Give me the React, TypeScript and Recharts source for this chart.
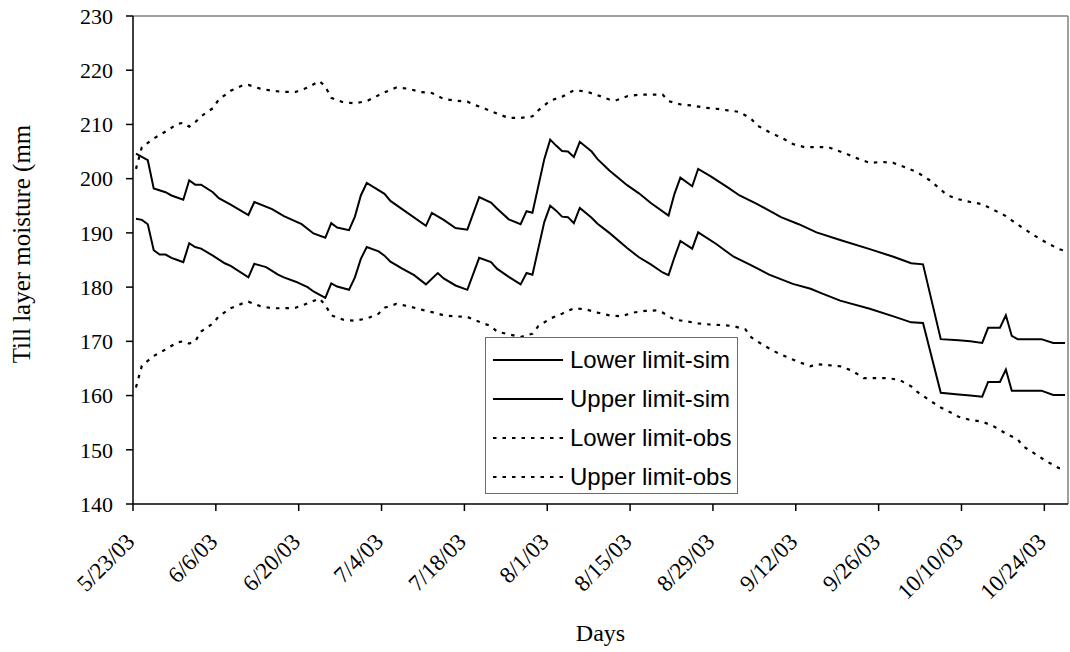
import React from 'react';
import { LineChart, Line, XAxis, YAxis, ReferenceLine, Legend } from 'recharts';

// Axis ticks: one every 14 days starting 5/23/03 (day 0)
const tickDays = [0, 14, 28, 42, 56, 70, 84, 98, 112, 126, 140, 154];
const tickLabels = ['5/23/03', '6/6/03', '6/20/03', '7/4/03', '7/18/03', '8/1/03', '8/15/03', '8/29/03', '9/12/03', '9/26/03', '10/10/03', '10/24/03'];
const yTicks = [140, 150, 160, 170, 180, 190, 200, 210, 220, 230];

// Simulated lower limit (mm), by day since 5/23/03
const lowerSimDays = [0, 1, 2, 3, 4, 5, 6, 7, 8, 9, 10, 11, 13, 15, 16, 19, 20, 22, 24, 25, 27, 29, 30, 31, 32, 33, 34, 36, 37, 38, 39, 41, 42, 43, 45, 47, 49, 51, 52, 54, 56, 58, 60, 61, 63, 65, 66, 67, 69, 70, 71, 72, 73, 74, 75, 77, 78, 80, 83, 85, 87, 89, 90, 91, 92, 94, 95, 98, 101, 104, 107, 111, 114, 116, 119, 124, 128, 131, 133, 136, 139, 141, 143, 144, 146, 147, 148, 153, 155, 157];
const lowerSimValues = [192.6, 192.4, 191.6, 186.8, 186.0, 186.0, 185.4, 185.0, 184.6, 188.1, 187.4, 187.1, 185.8, 184.4, 183.9, 181.8, 184.3, 183.7, 182.3, 181.8, 181.0, 180.0, 179.2, 178.6, 178.0, 180.7, 180.1, 179.5, 181.8, 185.2, 187.4, 186.6, 185.8, 184.7, 183.4, 182.2, 180.5, 182.6, 181.6, 180.3, 179.5, 185.4, 184.6, 183.4, 181.9, 180.5, 182.6, 182.3, 192.0, 195.0, 194.1, 193.0, 192.9, 191.8, 194.6, 192.8, 191.7, 190.0, 187.2, 185.5, 184.2, 182.7, 182.2, 185.5, 188.5, 187.1, 190.1, 188.0, 185.6, 184.0, 182.3, 180.6, 179.7, 178.8, 177.5, 176.0, 174.6, 173.5, 173.4, 160.5, 160.2, 160.0, 159.8, 162.5, 162.5, 164.8, 160.9, 160.9, 160.1, 160.1];

// Simulated upper limit (mm)
const upperSimDays = [0, 2, 3, 5, 6, 8, 9, 10, 11, 13, 14, 16, 19, 20, 23, 25, 28, 30, 32, 33, 34, 36, 37, 38, 39, 42, 43, 49, 50, 52, 54, 56, 58, 60, 61, 63, 65, 66, 67, 69, 70, 71, 72, 73, 74, 75, 77, 78, 80, 83, 85, 87, 90, 91, 92, 94, 95, 97, 100, 102, 105, 109, 112, 115, 119, 124, 128, 131, 133, 136, 139, 141, 143, 144, 146, 147, 148, 149, 153, 155, 157];
const upperSimValues = [204.6, 203.4, 198.2, 197.5, 196.9, 196.1, 199.7, 198.9, 198.9, 197.5, 196.4, 195.2, 193.3, 195.7, 194.4, 193.1, 191.6, 189.9, 189.1, 191.8, 191.0, 190.5, 193.0, 196.9, 199.2, 197.2, 195.9, 191.3, 193.7, 192.4, 190.9, 190.6, 196.6, 195.6, 194.5, 192.5, 191.6, 194.0, 193.7, 203.6, 207.2, 206.1, 205.1, 205.0, 204.0, 206.8, 205.0, 203.6, 201.5, 198.8, 197.3, 195.5, 193.2, 197.2, 200.2, 198.6, 201.8, 200.5, 198.4, 196.9, 195.3, 192.9, 191.6, 190.1, 188.7, 187.0, 185.6, 184.4, 184.2, 170.4, 170.2, 170.0, 169.7, 172.5, 172.5, 174.8, 171.0, 170.4, 170.4, 169.7, 169.7];

// Observed lower limit (mm)
const lowerObsDays = [0, 1, 3, 5, 7, 8, 9, 10, 11, 13, 14, 16, 18, 19, 21, 23, 25, 27, 29, 31, 32, 33, 35, 37, 39, 41, 42, 44, 46, 48, 50, 52, 54, 56, 58, 60, 61, 63, 65, 67, 68, 70, 72, 74, 76, 78, 80, 82, 84, 86, 88, 89, 91, 93, 95, 97, 99, 101, 103, 104, 106, 108, 110, 112, 114, 115, 117, 119, 121, 123, 125, 127, 129, 131, 132, 134, 136, 138, 139, 141, 143, 145, 147, 149, 150, 152, 154, 156, 157];
const lowerObsValues = [161.5, 165.5, 167.3, 168.5, 169.8, 170.0, 169.6, 170.0, 171.8, 173.3, 174.6, 176.1, 177.0, 177.3, 176.5, 176.1, 176.1, 176.2, 177.0, 177.9, 176.7, 174.8, 174.0, 173.8, 174.2, 175.1, 176.2, 176.9, 176.5, 175.9, 175.4, 174.8, 174.6, 174.5, 173.6, 172.8, 171.8, 171.3, 170.8, 171.4, 172.8, 174.2, 175.1, 176.1, 175.9, 175.3, 174.8, 174.6, 175.3, 175.6, 175.7, 175.3, 174.0, 173.7, 173.3, 173.1, 173.0, 172.8, 172.2, 170.7, 169.3, 168.1, 167.1, 166.2, 165.4, 165.8, 165.6, 165.4, 164.6, 163.2, 163.2, 163.2, 162.9, 161.7, 160.7, 159.2, 157.8, 156.7, 156.1, 155.5, 155.2, 154.3, 153.0, 151.9, 150.6, 149.2, 147.8, 146.6, 146.6];

// Observed upper limit (mm)
const upperObsDays = [0, 1, 3, 5, 7, 8, 9, 10, 11, 13, 14, 16, 18, 19, 21, 23, 25, 27, 29, 31, 32, 33, 35, 37, 39, 41, 43, 44, 46, 48, 50, 52, 54, 56, 57, 59, 61, 63, 65, 67, 68, 70, 72, 74, 76, 78, 80, 81, 83, 85, 87, 89, 90, 92, 94, 96, 98, 100, 102, 104, 105, 107, 109, 111, 113, 115, 117, 118, 120, 122, 124, 126, 128, 130, 132, 134, 136, 137, 139, 141, 143, 145, 147, 148, 150, 152, 154, 156, 157];
const upperObsValues = [201.8, 205.8, 207.4, 208.7, 210.1, 210.3, 209.6, 210.4, 211.5, 213.0, 214.6, 216.2, 217.2, 217.3, 216.6, 216.2, 216.0, 216.0, 216.8, 218.0, 217.0, 214.9, 214.1, 213.9, 214.3, 215.4, 216.4, 216.8, 216.6, 216.0, 215.8, 214.7, 214.4, 214.2, 213.7, 212.9, 212.0, 211.2, 211.2, 211.5, 212.6, 214.4, 215.1, 216.3, 216.1, 215.4, 214.6, 214.4, 215.2, 215.5, 215.5, 215.5, 214.3, 213.7, 213.5, 213.1, 212.9, 212.6, 212.3, 211.0, 209.8, 208.6, 207.6, 206.4, 205.8, 205.8, 205.8, 205.4, 204.6, 203.7, 202.9, 203.1, 202.9, 202.1, 201.2, 199.8, 198.0, 197.0, 196.2, 195.7, 195.3, 194.2, 193.1, 192.3, 190.8, 189.4, 188.1, 187.0, 186.7];

const SOLID = undefined;
const DOTTED = '3.5 6';

const series = [
  { name: 'Lower limit-sim', days: lowerSimDays, values: lowerSimValues, dash: SOLID },
  { name: 'Upper limit-sim', days: upperSimDays, values: upperSimValues, dash: SOLID },
  { name: 'Lower limit-obs', days: lowerObsDays, values: lowerObsValues, dash: DOTTED },
  { name: 'Upper limit-obs', days: upperObsDays, values: upperObsValues, dash: DOTTED },
];

// each daily value sits in the middle of its day slot
const toPoints = (days: number[], values: number[]) =>
  days.map((d, i) => ({ day: d + 0.5, value: values[i] }));

const SERIF = '"Liberation Serif", "Times New Roman", serif';
const SANS = '"Liberation Sans", Arial, sans-serif';

const DateTick = (props: any) => {
  const { x, y, payload } = props;
  const idx = tickDays.indexOf(payload.value);
  const label = idx >= 0 ? tickLabels[idx] : '';
  return (
    <g transform={`translate(${x},${y})`}>
      <text
        x={3}
        y={30}
        transform="rotate(-45, 3, 30)"
        textAnchor="end"
        fontFamily={SERIF}
        fontSize={23}
        fill="#000"
      >
        {label}
      </text>
    </g>
  );
};

const LegendBox = () => (
  <div
    style={{
      boxSizing: 'border-box',
      width: 253,
      height: 157,
      border: '1.5px solid #6b6b6b',
      background: '#fff',
      paddingTop: 2,
    }}
  >
    {series.map((s) => (
      <div key={s.name} style={{ display: 'flex', alignItems: 'center', height: 39 }}>
        <svg width={70} height={6} style={{ marginLeft: 7, display: 'block' }}>
          <line x1={0} y1={3} x2={70} y2={3} stroke="#000" strokeWidth={2} strokeDasharray={s.dash} />
        </svg>
        <span
          style={{
            marginLeft: 7,
            fontFamily: SANS,
            fontSize: 24,
            color: '#000',
            lineHeight: '24px',
            whiteSpace: 'nowrap',
          }}
        >
          {s.name}
        </span>
      </div>
    ))}
  </div>
);

export default function App() {
  return (
    <div style={{ position: 'absolute', left: 0, top: 0, width: 1070, height: 652, background: '#fff' }}>
      <LineChart width={1070} height={652} margin={{ top: 16, right: 2, left: 0, bottom: 0 }}>
        <XAxis
          dataKey="day"
          type="number"
          domain={[0, 158]}
          ticks={tickDays}
          interval={0}
          height={148}
          tickSize={7}
          tick={<DateTick />}
          axisLine={{ stroke: '#000', strokeWidth: 1.5 }}
          tickLine={{ stroke: '#000', strokeWidth: 1.5 }}
          allowDuplicatedCategory={false}
          label={{
            content: () => (
              <text x={600.5} y={641} textAnchor="middle" fontFamily={SERIF} fontSize={24} fill="#000">
                Days
              </text>
            ),
          }}
        />
        <YAxis
          type="number"
          domain={[140, 230]}
          ticks={yTicks}
          interval={0}
          width={133}
          tickSize={7}
          tickMargin={13}
          tick={{ fontFamily: SERIF, fontSize: 22, fill: '#000' }}
          axisLine={{ stroke: '#000', strokeWidth: 1.5 }}
          tickLine={{ stroke: '#000', strokeWidth: 1.5 }}
          label={{
            content: () => (
              <text
                x={30}
                y={244}
                transform="rotate(-90, 30, 244)"
                textAnchor="middle"
                fontFamily={SERIF}
                fontSize={25}
                fill="#000"
              >
                Till layer moisture (mm
              </text>
            ),
          }}
        />
        <ReferenceLine y={230} stroke="#808080" strokeWidth={1.5} />
        <ReferenceLine x={158} stroke="#808080" strokeWidth={1.5} />
        {series.map((s) => (
          <Line
            key={s.name}
            name={s.name}
            data={toPoints(s.days, s.values)}
            dataKey="value"
            type="linear"
            stroke="#000"
            strokeWidth={s.dash ? 2.2 : 2}
            strokeDasharray={s.dash}
            dot={false}
            activeDot={false}
            isAnimationActive={false}
          />
        ))}
        <Legend
          layout="vertical"
          align="center"
          verticalAlign="middle"
          content={() => <LegendBox />}
          wrapperStyle={{ position: 'absolute', left: 485, top: 337, width: 253, height: 157 }}
        />
      </LineChart>
    </div>
  );
}
